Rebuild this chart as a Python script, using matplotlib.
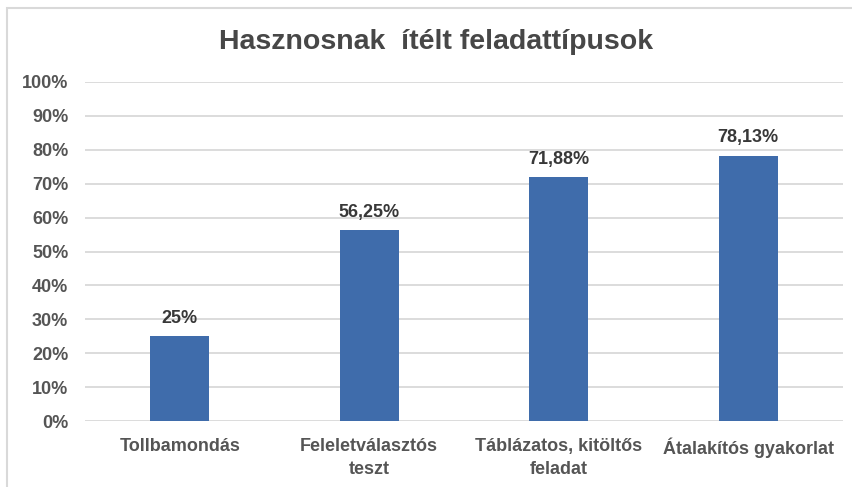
import matplotlib
matplotlib.use("Agg")
import matplotlib.pyplot as plt
from matplotlib.patches import Rectangle
from matplotlib.ticker import FuncFormatter

categories = ["Tollbamondás", "Feleletválasztós\nteszt", "Táblázatos, kitöltős\nfeladat", "Átalakítós gyakorlat"]
values = [25, 56.25, 71.88, 78.13]
value_labels = ["25%", "56,25%", "71,88%", "78,13%"]

plt.rcParams['font.family'] = ['Liberation Sans', 'DejaVu Sans']

fig = plt.figure(figsize=(8.53, 4.87), dpi=100)
ax = fig.add_axes([85 / 853, 1 - 421 / 487, (843 - 85) / 853, (421 - 82) / 487])

bar_color = '#3F6CAB'
text_gray = '#555555'

x = range(len(categories))
bars = ax.bar(x, values, width=0.31, color=bar_color, zorder=3)

# data labels above bars
for b, lab in zip(bars, value_labels):
    ax.annotate(lab, (b.get_x() + b.get_width() / 2, b.get_height()),
                xytext=(0, 7), textcoords='offset points',
                ha='center', va='bottom', fontsize=13, fontweight='bold', color='#383838')

ax.set_xlim(-0.5, len(categories) - 0.5)
ax.set_ylim(0, 100)
ax.set_yticks(range(0, 101, 10))
ax.yaxis.set_major_formatter(FuncFormatter(lambda v, p: f"{int(v)}%"))
ax.set_xticks(list(x))
ax.set_xticklabels(categories, fontsize=13, fontweight='bold', color=text_gray, linespacing=1.5)
for lab in ax.get_yticklabels():
    lab.set_fontsize(13)
    lab.set_fontweight('bold')
    lab.set_color(text_gray)

ax.tick_params(axis='both', length=0)
ax.tick_params(axis='x', pad=12)
ax.tick_params(axis='y', pad=12)
ax.grid(axis='y', color='#D9D9D9', linewidth=1.3, zorder=0)
for s in ax.spines.values():
    s.set_visible(False)

fig.text(436 / 853, 1 - 42 / 487, "Hasznosnak  ítélt feladattípusok", ha='center', va='center',
         fontsize=20.5, fontweight='bold', color='#474747')

# chart frame (partially cut off at right/bottom)
fig.patches.append(Rectangle((7 / 853, -0.2), 1.2, 1.2 - 8 / 487, transform=fig.transFigure,
                             fill=False, edgecolor='#D9D9D9', linewidth=1.5))

fig.savefig("out.png", dpi=100)
